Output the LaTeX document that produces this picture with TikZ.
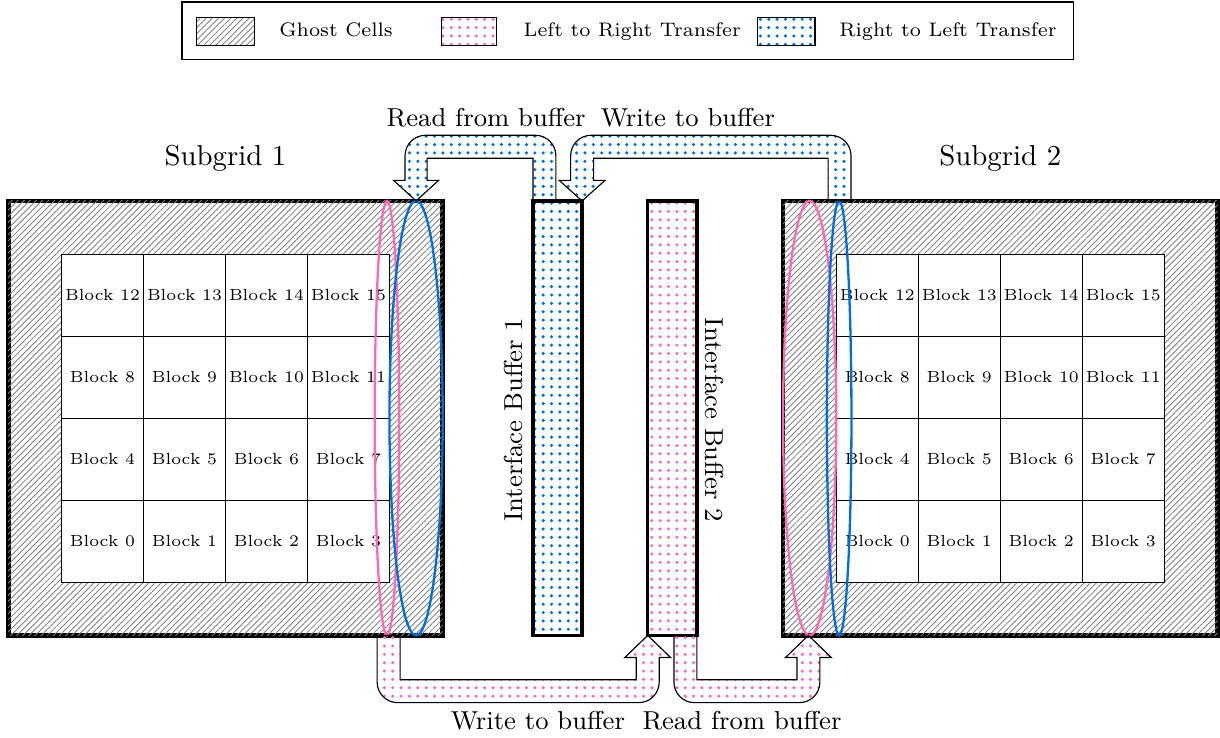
\documentclass[tikz,border=0pt]{standalone}
\usepackage{amsmath}
\usepackage{amssymb}
\usetikzlibrary{patterns, patterns.meta}
\definecolor{ltrpink}{RGB}{255,105,180}
\definecolor{rtlblue}{RGB}{0,110,220}

\begin{document}
\begin{tikzpicture}[scale=1.0,
            ghost/.style={pattern={Lines[angle=45, distance=1.5pt, line width=0.3pt]}, pattern color=gray},
            ltr/.style={pattern={Dots[distance=2.9pt, radius=0.6pt]}, pattern color=ltrpink},
            rtl/.style={pattern={Dots[distance=2.9pt, radius=0.6pt]}, pattern color=rtlblue},
            block/.style={draw, minimum size=1cm, inner sep=0pt, font=\fontsize{5.6}{7}\selectfont},
            buffer/.style={draw, very thick, minimum width=0.6cm, minimum height=5.3cm, inner sep=0pt},
            legtext/.style={anchor=base west, inner sep=0pt, font=\fontsize{6.8}{9}\selectfont},
            halo/.style={line width=0.8pt},
            lbl/.style={font=\small}]
            \useasboundingbox (0,0) rectangle (14.88,9.0);

            % Legend
            \draw (2.22,8.27) rectangle (13.09,8.976);
            \draw[ghost] (2.40,8.45) rectangle (3.10,8.79);
            \draw[ltr] (5.38,8.45) rectangle (6.06,8.79);
            \draw[rtl] (9.24,8.45) rectangle (9.94,8.79);
            \node[legtext] (legGhost) at (3.40,8.55) {Ghost Cells};
            \node[legtext] (legLtr) at (6.38,8.55) {Left to Right Transfer};
            \node[legtext] (legRtl) at (10.23,8.55) {Right to Left Transfer};

            % Subgrids with ghost layer and blocks
            \foreach \sg/\x in {1/0.1, 2/9.55} {
                \draw[ultra thick] (\x,1.25) rectangle ++(5.3,5.3);
                \path[ghost] (\x,1.25) rectangle ++(5.3,5.3);
                \fill[white] (\x+0.65,1.9) rectangle ++(4,4);
                \foreach \i in {0,...,15} {
                    \pgfmathtruncatemacro{\col}{mod(\i,4)}
                    \pgfmathtruncatemacro{\row}{div(\i,4)}
                    \node[block] (sg\sg b\i) at (\x+1.15+\col, 2.4+\row) {Block \i};
                }
                \node (sg\sg) at (\x+2.65,7.07) {Subgrid \sg};
            }

            % Exchanged columns
            \draw[ltrpink, halo] (4.72,3.9) ellipse [x radius=0.15, y radius=2.65];
            \draw[rtlblue, halo] (5.075,3.9) ellipse [x radius=0.325, y radius=2.65];
            \draw[ltrpink, halo] (9.875,3.9) ellipse [x radius=0.325, y radius=2.65];
            \draw[rtlblue, halo] (10.235,3.9) ellipse [x radius=0.15, y radius=2.65];

            % Interface buffers
            \node[buffer, rtl] (buf1) at (6.8,3.9) {};
            \node[buffer, ltr] (buf2) at (8.2,3.9) {};
            \node[lbl, rotate=90] (buf1lbl) at (6.26,3.88) {Interface Buffer 1};
            \node[lbl, rotate=-90] (buf2lbl) at (8.72,3.88) {Interface Buffer 2};

            % Right to left transfer (top)
            \draw[rtl] (6.78,6.55) -- (6.78,7.10) arc[start angle=0, end angle=90, radius=0.25]
                -- (5.19,7.35) arc[start angle=90, end angle=180, radius=0.25]
                -- (4.94,6.80) -- (4.80,6.80) -- (5.075,6.55) -- (5.35,6.80) -- (5.21,6.80)
                -- (5.21,7.07) -- (6.50,7.07) -- (6.50,6.55) -- cycle;
            \draw[rtl] (10.38,6.55) -- (10.38,7.10) arc[start angle=0, end angle=90, radius=0.25]
                -- (7.21,7.35) arc[start angle=90, end angle=180, radius=0.25]
                -- (6.96,6.80) -- (6.82,6.80) -- (7.10,6.55) -- (7.38,6.80) -- (7.24,6.80)
                -- (7.24,7.07) -- (10.10,7.07) -- (10.10,6.55) -- cycle;
            \node[lbl] (readTop) at (5.93,7.56) {Read from buffer};
            \node[lbl] (writeTop) at (8.39,7.56) {Write to buffer};

            % Left to right transfer (bottom)
            \draw[ltr] (4.60,1.25) -- (4.60,0.68) arc[start angle=180, end angle=270, radius=0.25]
                -- (7.79,0.43) arc[start angle=270, end angle=360, radius=0.25]
                -- (8.04,0.98) -- (8.18,0.98) -- (7.90,1.25) -- (7.62,0.98) -- (7.76,0.98)
                -- (7.76,0.71) -- (4.88,0.71) -- (4.88,1.25) -- cycle;
            \draw[ltr] (8.22,1.25) -- (8.22,0.68) arc[start angle=180, end angle=270, radius=0.25]
                -- (9.75,0.43) arc[start angle=270, end angle=360, radius=0.25]
                -- (10.0,0.98) -- (10.14,0.98) -- (9.86,1.25) -- (9.58,0.98) -- (9.72,0.98)
                -- (9.72,0.71) -- (8.50,0.71) -- (8.50,1.25) -- cycle;
            \node[lbl] (writeBot) at (6.56,0.21) {Write to buffer};
            \node[lbl] (readBot) at (9.05,0.21) {Read from buffer};
        \end{tikzpicture}
\end{document}
